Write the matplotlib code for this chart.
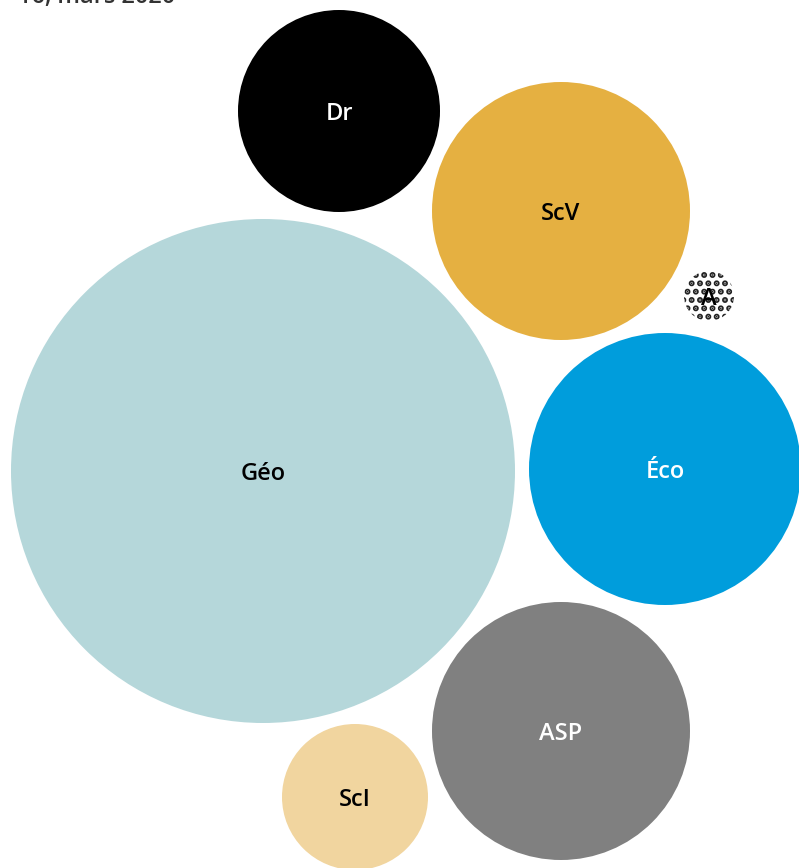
import matplotlib.pyplot as plt
from matplotlib.patches import Circle

# bubble data (pixel layout of the original chart)
labels = ['Dr', 'ScV', 'A', 'Éco', 'Géo', 'ASP', 'ScI']
radius = [101, 129, 25, 136, 252, 129, 73]
cx = [339, 561, 709, 665, 263, 561, 355]
cy = [111, 211, 296, 469, 471, 731, 797]
colors = ['#000000', '#E5B041', '#FFFFFF', '#009DDC', '#B5D7DA', '#808080', '#F1D59F']
text_colors = ['white', 'black', 'black', 'white', 'black', 'white', 'black']

plt.rcParams['font.family'] = ['Open Sans', 'DejaVu Sans']
plt.rcParams['hatch.linewidth'] = 3.0

fig = plt.figure(figsize=(7.99, 8.68), dpi=100)
ax = fig.add_axes([0, 0, 1, 1])
ax.set_xlim(0, 799)
ax.set_ylim(868, 0)
ax.set_aspect('equal')
ax.axis('off')

for lab, r, x, y, c, tc in zip(labels, radius, cx, cy, colors, text_colors):
    if lab == 'A':
        ax.add_patch(Circle((x, y), r, facecolor='white', edgecolor='#222222',
                            hatch='..', linewidth=0))
    else:
        ax.add_patch(Circle((x, y), r, facecolor=c, edgecolor='none'))
    ax.text(x, y + 3, lab, color=tc, fontsize=17, fontweight='semibold',
            ha='center', va='center')

# subtitle, cut off at the top edge as in the original
ax.text(18, -3, '16, mars 2020', fontsize=17, color='#333333',
        fontweight='semibold', ha='left', va='center', clip_on=False)

fig.savefig('out.png', dpi=100)
